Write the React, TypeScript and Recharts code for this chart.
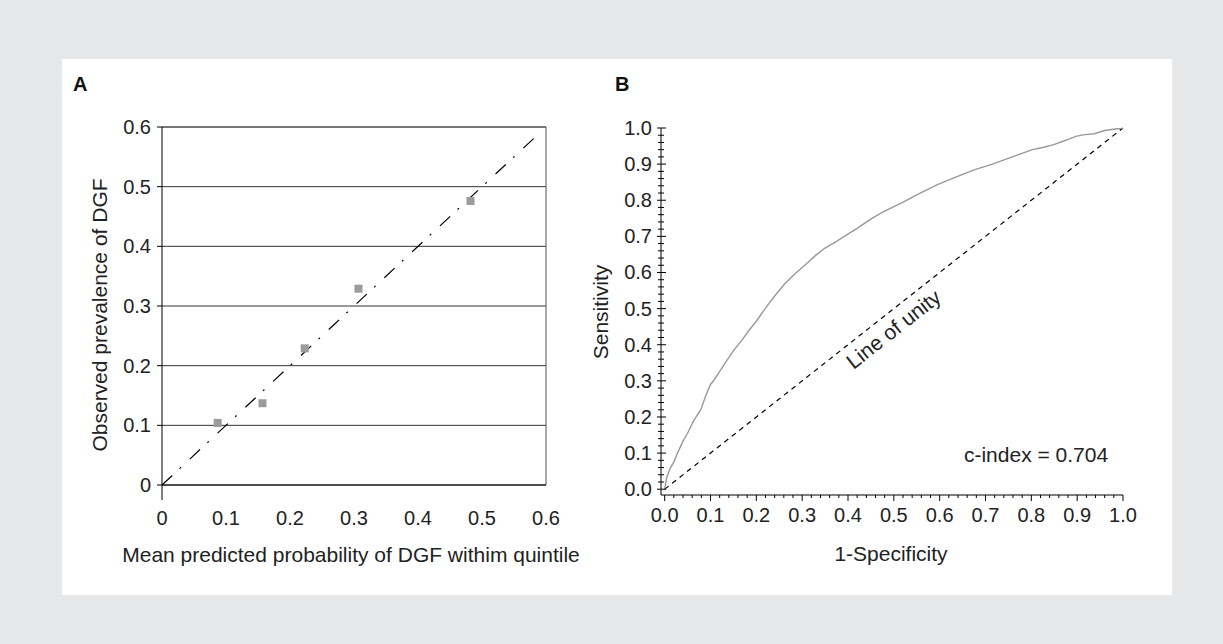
import React from 'react';
import {
  ScatterChart,
  Scatter,
  LineChart,
  Line,
  XAxis,
  YAxis,
  CartesianGrid,
  ReferenceLine,
  ReferenceDot,
} from 'recharts';

// ---------- Panel A: calibration by quintile ----------
const quintileMeanPredicted = [0.087, 0.157, 0.223, 0.307, 0.482];
const quintileObserved = [0.104, 0.137, 0.229, 0.329, 0.476];
const calibrationTicks = [0, 0.1, 0.2, 0.3, 0.4, 0.5, 0.6];
const calibrationTickLabels = ['0', '0.1', '0.2', '0.3', '0.4', '0.5', '0.6'];
const calibrationLineX = [0, 0.585];
const calibrationLineY = [0, 0.585];

// ---------- Panel B: ROC curve ----------
const rocFpr = [
  0, 0.004, 0.012, 0.02, 0.028, 0.04, 0.05, 0.063, 0.079, 0.09, 0.1, 0.107, 0.119, 0.135, 0.151,
  0.167, 0.183, 0.2, 0.222, 0.24, 0.262, 0.285, 0.31, 0.33, 0.349, 0.375, 0.397, 0.42, 0.452, 0.48,
  0.516, 0.55, 0.595, 0.635, 0.675, 0.715, 0.754, 0.78, 0.802, 0.825, 0.849, 0.875, 0.897, 0.913,
  0.937, 0.96, 0.988, 1.0,
];
const rocTpr = [
  0, 0.03, 0.058, 0.075, 0.1, 0.133, 0.155, 0.189, 0.221, 0.26, 0.29, 0.301, 0.324, 0.355, 0.385,
  0.41, 0.438, 0.465, 0.505, 0.535, 0.569, 0.597, 0.625, 0.648, 0.667, 0.686, 0.704, 0.722, 0.75,
  0.77, 0.792, 0.815, 0.843, 0.864, 0.884, 0.9, 0.918, 0.93, 0.94, 0.946, 0.954, 0.966, 0.977, 0.981,
  0.984, 0.993, 0.998, 1.0,
];
const rocMajorTicks = [0, 0.1, 0.2, 0.3, 0.4, 0.5, 0.6, 0.7, 0.8, 0.9, 1.0];
const rocTickLabels = ['0.0', '0.1', '0.2', '0.3', '0.4', '0.5', '0.6', '0.7', '0.8', '0.9', '1.0'];
const unityX = [0, 1];
const unityY = [0, 1];
const cIndexText = 'c-index = 0.704';
const cIndexPos = { x: 0.653, y: 0.075 };
const unityLabel = 'Line of unity';
const unityLabelPos = { x: 0.499, y: 0.4435 };

const FONT = '"Liberation Sans", Arial, Helvetica, sans-serif';
const TICK_FS = 20;
const TITLE_FS = 21;

const calibrationData = quintileMeanPredicted.map((x, i) => ({ x, y: quintileObserved[i] }));
const rocData = rocFpr.map((fpr, i) => ({ fpr, tpr: rocTpr[i] }));
const rocMinorTicks: number[] = [];
for (let i = 0; i <= 50; i++) rocMinorTicks.push(Math.round(i * 2) / 100);

const labelFor = (values: number[], labels: string[], v: number) => {
  const idx = values.findIndex((t) => Math.abs(t - v) < 1e-6);
  return idx >= 0 ? labels[idx] : null;
};

// Panel A ticks
const ATickY = (props: any) => {
  const { x, y, payload } = props;
  const lab = labelFor(calibrationTicks, calibrationTickLabels, payload.value);
  return (
    <g>
      <line x1={x - 5} x2={x} y1={y} y2={y} stroke="#000" strokeWidth={1} />
      <text x={x - 11} y={y} textAnchor="end" dominantBaseline="central" fontSize={TICK_FS} fontFamily={FONT} fill="#222">
        {lab}
      </text>
    </g>
  );
};
const ATickX = (props: any) => {
  const { x, y, payload } = props;
  const lab = labelFor(calibrationTicks, calibrationTickLabels, payload.value);
  return (
    <g>
      {payload.value === 0 ? <line x1={x} x2={x} y1={y} y2={y + 15} stroke="#000" strokeWidth={1} /> : null}
      <text x={x} y={y + 33} textAnchor="middle" dominantBaseline="central" fontSize={TICK_FS} fontFamily={FONT} fill="#222">
        {lab}
      </text>
    </g>
  );
};

// Panel B ticks
const isMajor = (v: number) => rocMajorTicks.some((t) => Math.abs(t - v) < 1e-6);
const BTickY = (props: any) => {
  const { x, y, payload } = props;
  const major = isMajor(payload.value);
  const lab = labelFor(rocMajorTicks, rocTickLabels, payload.value);
  return (
    <g>
      <line x1={x - (major ? 4 : 3)} x2={x + (major ? 5 : 3)} y1={y} y2={y} stroke="#000" strokeWidth={1} />
      {major ? (
        <text x={x - 9} y={y} textAnchor="end" dominantBaseline="central" fontSize={TICK_FS} fontFamily={FONT} fill="#222">
          {lab}
        </text>
      ) : null}
    </g>
  );
};
const BTickX = (props: any) => {
  const { x, y, payload } = props;
  const major = isMajor(payload.value);
  const lab = labelFor(rocMajorTicks, rocTickLabels, payload.value);
  return (
    <g>
      <line x1={x} x2={x} y1={y} y2={y + (major ? 6 : 3)} stroke="#000" strokeWidth={1} />
      {major ? (
        <text x={x} y={y + 20} textAnchor="middle" dominantBaseline="central" fontSize={TICK_FS} fontFamily={FONT} fill="#222">
          {lab}
        </text>
      ) : null}
    </g>
  );
};

const SquareMarker = (props: any) => {
  const { cx, cy } = props;
  return <rect x={cx - 4} y={cy - 4} width={8} height={8} fill="#9b9b9b" />;
};

const CIndexLabel = (props: any) => {
  const vb = props.viewBox || {};
  const cx = vb.x + (vb.width || 0) / 2;
  const cy = vb.y + (vb.height || 0) / 2;
  return (
    <text x={cx} y={cy} textAnchor="start" fontSize={TITLE_FS} fontFamily={FONT} fill="#222">
      {cIndexText}
    </text>
  );
};
const UnityLabel = (props: any) => {
  const vb = props.viewBox || {};
  const cx = vb.x + (vb.width || 0) / 2;
  const cy = vb.y + (vb.height || 0) / 2;
  return (
    <text
      x={cx}
      y={cy}
      textAnchor="middle"
      dominantBaseline="central"
      fontSize={TITLE_FS}
      fontFamily={FONT}
      fill="#222"
      transform={`rotate(-38.2 ${cx} ${cy})`}
    >
      {unityLabel}
    </text>
  );
};

export default function App() {
  return (
    <div
      style={{
        position: 'absolute',
        left: 0,
        top: 0,
        width: 1223,
        height: 644,
        background: '#e6e7e9',
        overflow: 'hidden',
        fontFamily: FONT,
      }}
    >
      <div style={{ position: 'absolute', left: 62, top: 59, width: 1110, height: 536, background: '#ffffff' }} />

      {/* Panel A */}
      <div style={{ position: 'absolute', left: 62, top: 59 }}>
        <ScatterChart width={538} height={536} margin={{ top: 68, right: 54, bottom: 70, left: 40 }}>
          <CartesianGrid horizontal vertical={false} stroke="#333" strokeWidth={1} />
          <XAxis
            type="number"
            dataKey="x"
            domain={[0, 0.6]}
            ticks={calibrationTicks}
            interval={0}
            allowDataOverflow
            height={40}
            tickSize={0}
            tickMargin={0}
            tickLine={false}
            axisLine={{ stroke: '#000' }}
            tick={<ATickX />}
          />
          <YAxis
            type="number"
            dataKey="y"
            domain={[0, 0.6]}
            ticks={calibrationTicks}
            interval={0}
            allowDataOverflow
            width={60}
            tickSize={0}
            tickMargin={0}
            tickLine={false}
            axisLine={{ stroke: '#000' }}
            tick={<ATickY />}
          />
          <ReferenceLine x={0.6} stroke="#555" strokeWidth={1} />
          <ReferenceLine y={0.6} stroke="#555" strokeWidth={1} />
          <ReferenceLine
            segment={[
              { x: calibrationLineX[0], y: calibrationLineY[0] },
              { x: calibrationLineX[1], y: calibrationLineY[1] },
            ]}
            stroke="#000"
            strokeWidth={1.2}
            strokeDasharray="14 10 2 12"
          />
          <Scatter data={calibrationData} shape={<SquareMarker />} isAnimationActive={false} />
        </ScatterChart>
      </div>

      {/* Panel B */}
      <div style={{ position: 'absolute', left: 601, top: 59 }}>
        <LineChart width={572} height={536} data={rocData} margin={{ top: 69, right: 50, bottom: 60, left: 10 }}>
          <XAxis
            type="number"
            dataKey="fpr"
            domain={[-0.008, 1]}
            ticks={rocMinorTicks}
            interval={0}
            allowDataOverflow
            height={40}
            tickSize={0}
            tickMargin={0}
            tickLine={false}
            axisLine={{ stroke: '#000' }}
            tick={<BTickX />}
          />
          <YAxis
            type="number"
            domain={[-0.016, 1]}
            ticks={rocMinorTicks}
            interval={0}
            allowDataOverflow
            width={50}
            tickSize={0}
            tickMargin={0}
            tickLine={false}
            axisLine={{ stroke: '#000' }}
            tick={<BTickY />}
          />
          <ReferenceLine
            segment={[
              { x: unityX[0], y: unityY[0] },
              { x: unityX[1], y: unityY[1] },
            ]}
            stroke="#000"
            strokeWidth={1.2}
            strokeDasharray="5 4.5"
          />
          <Line
            type="linear"
            dataKey="tpr"
            stroke="#999"
            strokeWidth={1.4}
            dot={false}
            isAnimationActive={false}
          />
          <ReferenceDot
            x={cIndexPos.x}
            y={cIndexPos.y}
            r={1}
            fill="none"
            stroke="none"
            label={<CIndexLabel />}
          />
          <ReferenceDot
            x={unityLabelPos.x}
            y={unityLabelPos.y}
            r={1}
            fill="none"
            stroke="none"
            label={<UnityLabel />}
          />
        </LineChart>
      </div>

      {/* Titles and panel letters */}
      <svg width={1223} height={644} style={{ position: 'absolute', left: 0, top: 0, pointerEvents: 'none' }}>
        <text x={73} y={91} fontSize={20} fontWeight="bold" fontFamily={FONT} fill="#111">A</text>
        <text x={615} y={91} fontSize={20} fontWeight="bold" fontFamily={FONT} fill="#111">B</text>
        <text
          x={99}
          y={315}
          textAnchor="middle"
          dominantBaseline="central"
          fontSize={TITLE_FS}
          fontFamily={FONT}
          fill="#222"
          transform="rotate(-90 99 315)"
        >
          Observed prevalence of DGF
        </text>
        <text x={351} y={562} textAnchor="middle" fontSize={TITLE_FS} fontFamily={FONT} fill="#222">
          Mean predicted probability of DGF withim quintile
        </text>
        <text
          x={600}
          y={312}
          textAnchor="middle"
          dominantBaseline="central"
          fontSize={TITLE_FS}
          fontFamily={FONT}
          fill="#222"
          transform="rotate(-90 600 312)"
        >
          Sensitivity
        </text>
        <text x={891} y={561} textAnchor="middle" fontSize={TITLE_FS} fontFamily={FONT} fill="#222">
          1-Specificity
        </text>
      </svg>
    </div>
  );
}
